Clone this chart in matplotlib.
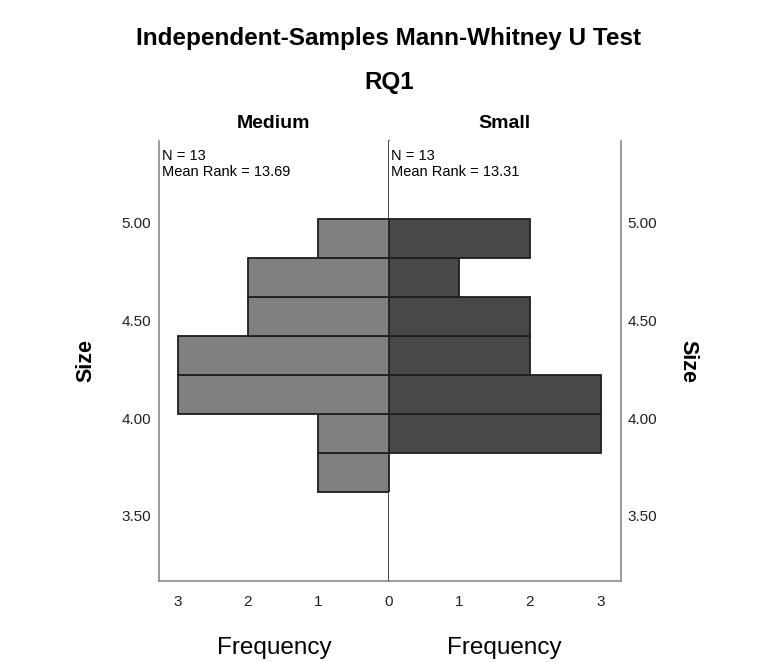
import matplotlib
matplotlib.use("Agg")
import matplotlib.pyplot as plt

plt.rcParams['font.family'] = ['Liberation Sans', 'DejaVu Sans']

# histogram bins (lower edges), width 0.2
bin_lo = [3.62, 3.82, 4.02, 4.22, 4.42, 4.62, 4.82]
bin_w = 0.2
medium = [1, 1, 3, 3, 2, 2, 1]
small = [0, 3, 3, 2, 2, 1, 2]
groups = ["Medium", "Small"]
n_vals = [13, 13]
mean_rank = [13.69, 13.31]
yticks = [3.50, 4.00, 4.50, 5.00]
xticks = [0, 1, 2, 3]

W, H = 757, 662
fig = plt.figure(figsize=(W / 100, H / 100), dpi=100)

def px(x0, y0, x1, y1):
    return [x0 / W, 1 - y1 / H, (x1 - x0) / W, (y1 - y0) / H]

axL = fig.add_axes(px(159.3, 141, 388.7, 581))
axR = fig.add_axes(px(388.7, 141, 620.7, 581))

spine_col = '#8a8a8a'
mid_col = '#2a2a2a'

for ax, counts, col, xt in [(axL, medium, '#808080', xticks),
                            (axR, small, '#484848', xticks[1:])]:
    ax.barh(bin_lo, counts, height=bin_w, align='edge', color=col,
            edgecolor='#1e1e1e', linewidth=1.3, zorder=3)
    ax.set_ylim(3.165, 5.42)
    ax.set_yticks(yticks)
    ax.set_yticklabels(["%.2f" % v for v in yticks], fontsize=11, color='#222222')
    ax.set_xticks(xt)
    ax.set_xticklabels([str(v) for v in xt], fontsize=11, color='#222222')
    ax.tick_params(length=0)
    ax.tick_params(axis='x', pad=10)
    ax.tick_params(axis='y', pad=6)
    ax.spines['top'].set_visible(False)
    for s in ax.spines.values():
        s.set_color(spine_col)
        s.set_linewidth(1.2)

axL.set_xlim(3.26, 0)
axL.spines['right'].set_color(mid_col)
axL.spines['right'].set_zorder(4)
axR.set_xlim(0, 3.285)
axR.spines['left'].set_visible(False)
axR.yaxis.tick_right()
axR.tick_params(axis='y', pad=5)

# axis labels
for ax in (axL, axR):
    ax.set_xlabel("Frequency", fontsize=17.5, labelpad=20)
axL.set_ylabel("Size", fontsize=15.5, fontweight='bold', labelpad=18)
axR.yaxis.set_label_position('right')
axR.set_ylabel("Size", fontsize=15.5, fontweight='bold', rotation=270, labelpad=30)

# group annotations
for ax, g, n, mr in zip((axL, axR), groups, n_vals, mean_rank):
    ax.set_title(g, fontsize=14, fontweight='bold', pad=9)
    ax.text(0.012, 0.982, "N = %d\nMean Rank = %.2f" % (n, mr),
            transform=ax.transAxes, ha='left', va='top',
            fontsize=10.5, linespacing=1.15)

fig.text(389 / W, 1 - 38 / H, "Independent-Samples Mann-Whitney U Test",
         ha='center', va='center', fontsize=17.5, fontweight='bold')
fig.text(389 / W, 1 - 82 / H, "RQ1", ha='center', va='center',
         fontsize=17.5, fontweight='bold')

fig.savefig("out.png", dpi=100)
